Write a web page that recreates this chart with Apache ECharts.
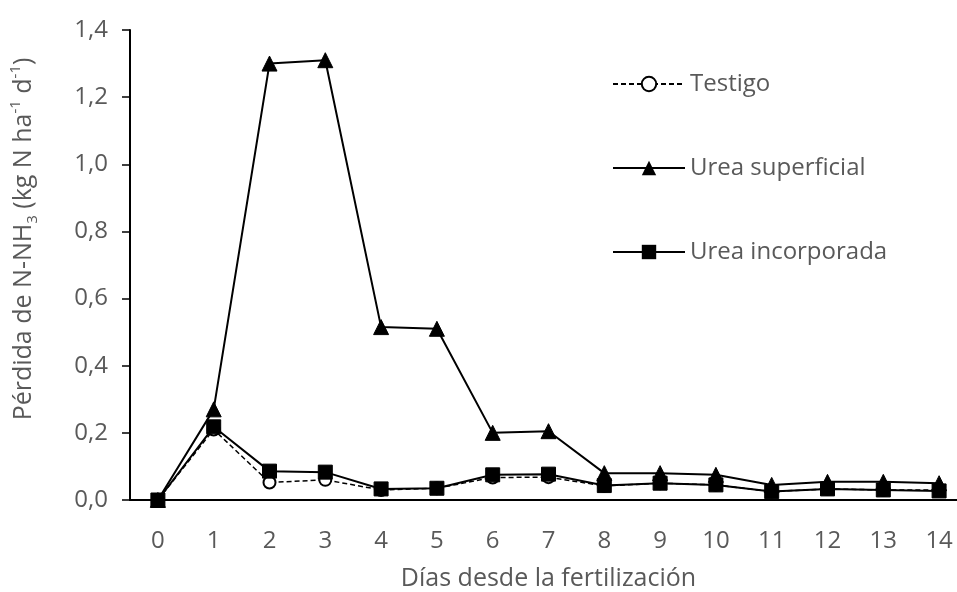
<!DOCTYPE html>
<html>
<head>
<meta charset="utf-8">
<script src="https://cdn.jsdelivr.net/npm/echarts@6/dist/echarts.min.js"></script>
<style>
  html, body { margin: 0; padding: 0; background: #fff; }
  #chart { width: 957px; height: 592px; }
</style>
</head>
<body>
<div id="chart"></div>
<script>
// Days after fertilization
const days = ['0', '1', '2', '3', '4', '5', '6', '7', '8', '9', '10', '11', '12', '13', '14'];

// NH3-N loss (kg N ha-1 d-1)
const testigo = [0, 0.21, 0.052, 0.06, 0.03, 0.035, 0.067, 0.068, 0.042, 0.05, 0.045, 0.025, 0.033, 0.03, 0.03];
const ureaSuperficial = [0, 0.27, 1.30, 1.31, 0.515, 0.51, 0.20, 0.205, 0.08, 0.08, 0.075, 0.045, 0.054, 0.054, 0.05];
const ureaIncorporada = [0, 0.218, 0.086, 0.083, 0.033, 0.035, 0.075, 0.077, 0.043, 0.05, 0.045, 0.025, 0.033, 0.03, 0.027];

const seriesNames = ['Testigo', 'Urea superficial', 'Urea incorporada'];

const FONT = '"Open Sans", "DejaVu Sans", sans-serif';
const GREY = '#595959';

const chart = echarts.init(document.getElementById('chart'), null, { renderer: 'canvas' });

chart.setOption({
  backgroundColor: '#ffffff',
  animation: false,
  grid: { left: 130, right: -10, top: 30, bottom: 92, containLabel: false, outerBoundsMode: 'none' },
  legend: {
    orient: 'vertical',
    left: 607,
    top: 67,
    itemWidth: 72,
    itemHeight: 18,
    itemGap: 60,
    data: seriesNames,
    textStyle: { color: GREY, fontSize: 24, fontFamily: FONT, lineHeight: 24 }
  },
  xAxis: {
    type: 'category',
    data: days,
    boundaryGap: true,
    name: 'Días desde la fertilización',
    nameLocation: 'middle',
    nameGap: 66,
    nameTextStyle: { color: GREY, fontSize: 25, fontFamily: FONT },
    axisLine: { lineStyle: { color: '#000', width: 2 } },
    axisTick: { show: false },
    axisLabel: { color: GREY, fontSize: 24, fontFamily: FONT, margin: 29 },
    splitLine: { show: false }
  },
  yAxis: {
    type: 'value',
    min: 0,
    max: 1.4,
    interval: 0.2,
    name: 'Pérdida de N-NH{sub|3} (kg N ha{sup|-1} d{sup|-1})',
    nameLocation: 'middle',
    nameRotate: 90,
    nameGap: 90,
    nameTextStyle: {
      color: GREY, fontSize: 25, fontFamily: FONT, lineHeight: 32,
      padding: [0, 0, 0, 52],
      rich: {
        sub: { color: GREY, fontSize: 15, fontFamily: FONT, lineHeight: 15, verticalAlign: 'bottom' },
        sup: { color: GREY, fontSize: 15, fontFamily: FONT, lineHeight: 15, verticalAlign: 'top' }
      }
    },
    axisLine: { show: true, lineStyle: { color: '#000', width: 2 } },
    axisTick: { show: true, length: 8, lineStyle: { color: '#000', width: 1.5 } },
    axisLabel: {
      color: GREY, fontSize: 24, fontFamily: FONT, margin: 22,
      formatter: v => v.toFixed(1).replace('.', ',')
    },
    splitLine: { show: false }
  },
  series: [
    {
      name: seriesNames[0],
      type: 'line',
      data: testigo,
      symbol: 'circle',
      symbolSize: 12,
      showAllSymbol: true,
      lineStyle: { color: '#000', width: 1.5, type: [5, 3] },
      itemStyle: { color: '#fff', borderColor: '#000', borderWidth: 2 },
      z: 2
    },
    {
      name: seriesNames[1],
      type: 'line',
      data: ureaSuperficial,
      symbol: 'triangle',
      symbolSize: 15,
      showAllSymbol: true,
      lineStyle: { color: '#000', width: 2 },
      itemStyle: { color: '#000', borderColor: '#000' },
      z: 3
    },
    {
      name: seriesNames[2],
      type: 'line',
      data: ureaIncorporada,
      symbol: 'rect',
      symbolSize: 14,
      showAllSymbol: true,
      lineStyle: { color: '#000', width: 2 },
      itemStyle: { color: '#000', borderColor: '#000' },
      z: 4
    }
  ]
});
</script>
</body>
</html>
